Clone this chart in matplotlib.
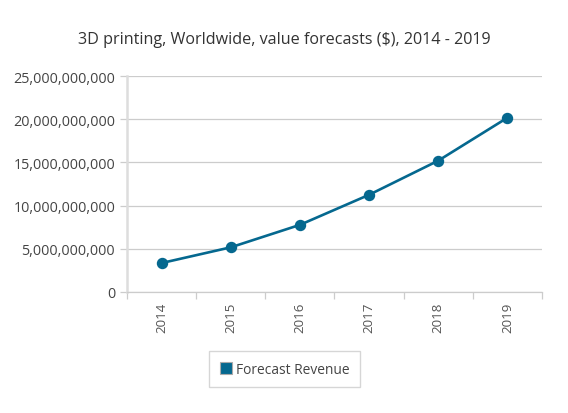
import matplotlib
matplotlib.use("Agg")
import matplotlib.pyplot as plt
from matplotlib.ticker import FuncFormatter, FixedLocator

years = ["2014", "2015", "2016", "2017", "2018", "2019"]
revenue = [3.35e9, 5.17e9, 7.77e9, 11.25e9, 15.2e9, 20.17e9]
y_ticks = [0, 5e9, 10e9, 15e9, 20e9, 25e9]

line_color = "#05688f"
plt.rcParams["font.family"] = ["Open Sans", "DejaVu Sans"]

fig = plt.figure(figsize=(5.68, 4.14), dpi=100)
ax = fig.add_axes([0.2236, 0.2923, 0.7306, 0.5217])

x = list(range(len(years)))
ax.plot(x, revenue, color=line_color, linewidth=1.9, marker="o",
        markersize=7.2, label="Forecast Revenue", zorder=3)

ax.set_xlim(-0.5, len(years) - 0.5)
ax.set_ylim(0, 25e9)
ax.set_yticks(y_ticks)
ax.yaxis.set_major_formatter(FuncFormatter(lambda v, p: f"{int(v):,}"))
ax.grid(axis="y", color="#cccccc", linewidth=0.9)
ax.set_axisbelow(True)

ax.set_xticks(x)
ax.set_xticklabels(years, rotation=90)
ax.xaxis.set_minor_locator(FixedLocator([i - 0.5 for i in range(len(years) + 1)]))
ax.tick_params(axis="x", which="major", length=0, pad=7, labelsize=9.6, labelcolor="#555555")
ax.tick_params(axis="x", which="minor", length=5, color="#cccccc", width=0.9)
ax.tick_params(axis="y", length=5, color="#cccccc", width=0.9, pad=3.5,
               labelsize=10.4, labelcolor="#444444")

for side in ["top", "right"]:
    ax.spines[side].set_visible(False)
ax.spines["left"].set_color("#dddddd")
ax.spines["left"].set_linewidth(1.8)
ax.spines["bottom"].set_color("#cccccc")
ax.spines["bottom"].set_linewidth(0.9)

fig.text(0.5, 0.903, "3D printing, Worldwide, value forecasts ($), 2014 - 2019",
         ha="center", va="center", fontsize=11.6, color="#333333")

handle = plt.Rectangle((0, 0), 1, 1, facecolor=line_color, edgecolor="#aaaaaa", linewidth=0.8)
leg = fig.legend([handle], ["Forecast Revenue"], loc="center",
                 bbox_to_anchor=(0.501, 0.106), frameon=True, fancybox=False,
                 fontsize=9.9, handlelength=0.9, handleheight=0.9, handletextpad=0.3,
                 borderpad=0.75, borderaxespad=0)
leg.get_frame().set_edgecolor("#cccccc")
leg.get_frame().set_linewidth(1.0)
for t in leg.get_texts():
    t.set_color("#444444")

fig.savefig("out.png", dpi=100)
